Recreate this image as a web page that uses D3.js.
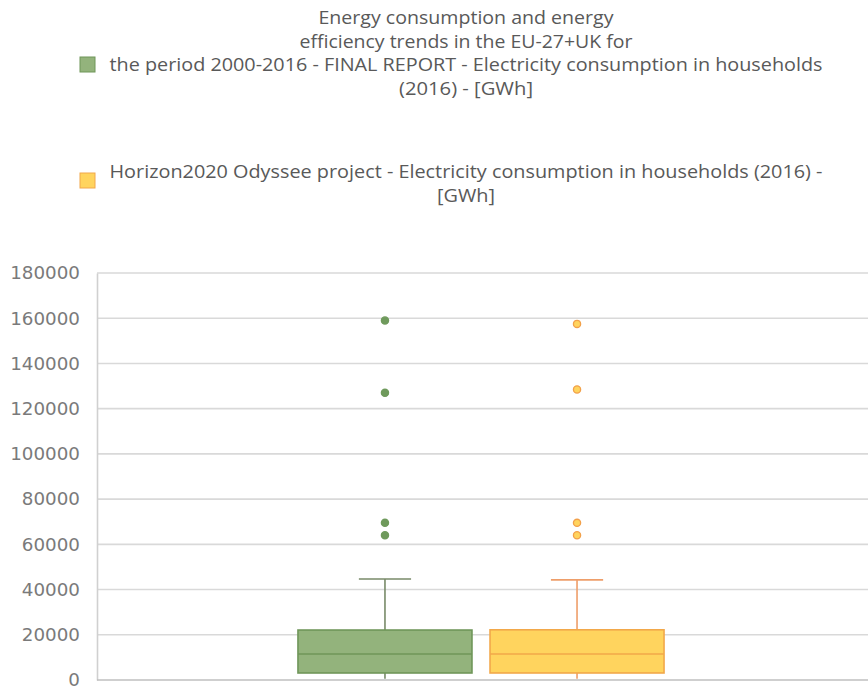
<!DOCTYPE html>
<html>
<head>
<meta charset="utf-8">
<script src="https://cdn.jsdelivr.net/npm/d3@7"></script>
<style>
  html, body { margin: 0; padding: 0; background: #fff; }
  svg { display: block; }
</style>
</head>
<body>
<svg id="chart" width="868" height="686"></svg>
<script>
// Series names and legend lines
const seriesKeys = ["report", "odyssee"];
const legendLines = [
  ["Energy consumption and energy",
   "efficiency trends in the EU-27+UK for",
   "the period 2000-2016 - FINAL REPORT - Electricity consumption in households",
   "(2016) - [GWh]"],
  ["Horizon2020 Odyssee project - Electricity consumption in households (2016) -",
   "[GWh]"]
];
const category = ["Electricity consumption in households (2016)"];

// Box statistics per series [GWh]: min, q1, median, q3, upper whisker
const boxMin    = [600, 500];
const boxQ1     = [3100, 3100];
const boxMedian = [11500, 11500];
const boxQ3     = [22100, 22200];
const boxMax    = [44700, 44300];
// Outliers per series [GWh]
const outliersReport  = [159000, 127000, 69500, 64000];
const outliersOdyssee = [157500, 128500, 69500, 64000];

// Axis ticks
const yTicks = [0, 20000, 40000, 60000, 80000, 100000, 120000, 140000, 160000, 180000];

const fills   = ["#93b37c", "#ffd45e"];
const strokes = ["#6f9659", "#f2a84a"];
const whisk   = ["#788a68", "#ee9e6a"];
const outFill = ["#6f9a5c", "#ffd45e"];
const outLine = ["#6f9a5c", "#f2a04a"];

const svg = d3.select("#chart");
const plot = { left: 97, right: 865, top: 273, bottom: 680 };

const y = d3.scaleLinear().domain([0, 180000]).range([plot.bottom, plot.top]);
const x0 = d3.scaleBand().domain(category).range([plot.left, plot.right])
  .paddingInner(0).paddingOuter(0.549);
const x1 = d3.scaleBand().domain(seriesKeys).range([0, x0.bandwidth()])
  .paddingInner(0.094).paddingOuter(0);

// Gridlines
svg.append("g")
  .selectAll("line")
  .data(yTicks.filter(d => d > 0))
  .join("line")
  .attr("x1", plot.left).attr("x2", 868)
  .attr("y1", d => y(d)).attr("y2", d => y(d))
  .attr("stroke", "#d9d9d9").attr("stroke-width", 1.6);

// Y axis labels
const yAxis = d3.axisLeft(y).tickValues(yTicks).tickSize(0).tickPadding(17)
  .tickFormat(d3.format("d"));
const gy = svg.append("g").attr("transform", `translate(${plot.left},0)`).call(yAxis);
gy.select(".domain").attr("stroke", "#d0d0d0").attr("stroke-width", 1.6);
gy.selectAll("text")
  .attr("font-family", "DejaVu Sans, sans-serif")
  .attr("font-size", 18.3)
  .attr("fill", "#7a7a7a");

// Baseline
svg.append("line")
  .attr("x1", plot.left).attr("x2", 868)
  .attr("y1", y(0)).attr("y2", y(0))
  .attr("stroke", "#bfbfbf").attr("stroke-width", 1.6);

const outliers = [outliersReport, outliersOdyssee];
const gBoxes = svg.append("g");

seriesKeys.forEach((k, i) => {
  const bx = x0(category[0]) + x1(k);
  const bw = x1.bandwidth();
  const cx = bx + bw / 2;
  const capW = bw * 0.3;
  const g = gBoxes.append("g");

  // upper whisker
  g.append("line")
    .attr("x1", cx).attr("x2", cx)
    .attr("y1", y(boxQ3[i])).attr("y2", y(boxMax[i]))
    .attr("stroke", whisk[i]).attr("stroke-width", 1.6);
  g.append("line")
    .attr("x1", cx - capW / 2).attr("x2", cx + capW / 2)
    .attr("y1", y(boxMax[i])).attr("y2", y(boxMax[i]))
    .attr("stroke", whisk[i]).attr("stroke-width", 1.6);
  // lower whisker
  g.append("line")
    .attr("x1", cx).attr("x2", cx)
    .attr("y1", y(boxQ1[i])).attr("y2", y(boxMin[i]))
    .attr("stroke", whisk[i]).attr("stroke-width", 1.6);

  // box
  g.append("rect")
    .attr("x", bx).attr("y", y(boxQ3[i]))
    .attr("width", bw).attr("height", y(boxQ1[i]) - y(boxQ3[i]))
    .attr("fill", fills[i]).attr("stroke", strokes[i]).attr("stroke-width", 1.6);
  // median
  g.append("line")
    .attr("x1", bx).attr("x2", bx + bw)
    .attr("y1", y(boxMedian[i])).attr("y2", y(boxMedian[i]))
    .attr("stroke", strokes[i]).attr("stroke-width", 1.6);

  // outliers
  g.selectAll("circle")
    .data(outliers[i])
    .join("circle")
    .attr("cx", cx).attr("cy", d => y(d)).attr("r", 3.6)
    .attr("fill", outFill[i]).attr("stroke", outLine[i]).attr("stroke-width", 1.3);
});

// Legend
const legend = svg.append("g")
  .attr("font-family", "Open Sans, sans-serif")
  .attr("font-size", 17.5)
  .attr("fill", "#595959")
  .attr("text-anchor", "middle");

const legendCx = 466;
const lineH = 23.6;
const legendTop = [24, 178];
const swatchY = [57, 173];
// rendered width of each legend line
const lineWidths = [
  [295, 333, 713, 134],
  [713, 58]
];

legendLines.forEach((lines, i) => {
  legend.append("rect")
    .attr("x", 80).attr("y", swatchY[i]).attr("width", 15).attr("height", 15)
    .attr("fill", fills[i]).attr("stroke", strokes[i]).attr("stroke-width", 1);
  lines.forEach((t, j) => {
    legend.append("text")
      .attr("x", legendCx).attr("y", legendTop[i] + j * lineH)
      .attr("textLength", lineWidths[i][j])
      .attr("lengthAdjust", "spacingAndGlyphs")
      .text(t);
  });
});
</script>
</body>
</html>
